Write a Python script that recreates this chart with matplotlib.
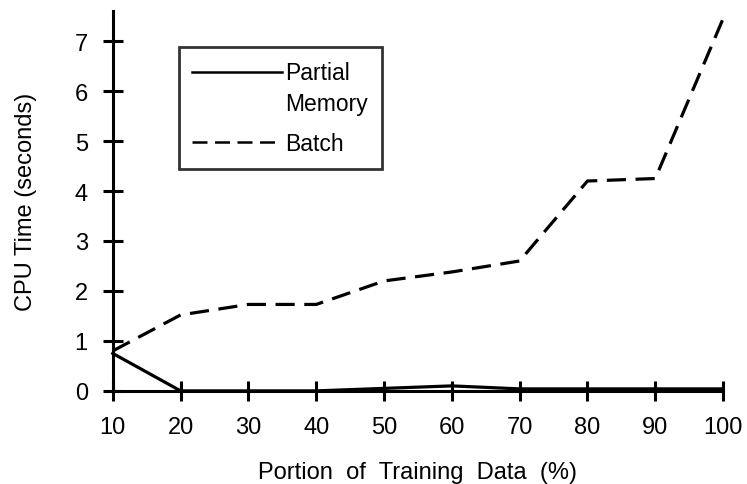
import matplotlib.pyplot as plt

plt.rcParams['font.family'] = ['Liberation Sans', 'DejaVu Sans']

portion = [10, 20, 30, 40, 50, 60, 70, 80, 90, 100]
partial_memory = [0.75, 0.0, 0.0, 0.0, 0.05, 0.1, 0.04, 0.04, 0.04, 0.04]
batch = [0.8, 1.52, 1.73, 1.73, 2.2, 2.38, 2.6, 4.2, 4.25, 7.45]
y_ticks = [0, 1, 2, 3, 4, 5, 6, 7]

fig = plt.figure(figsize=(7.47, 4.85), dpi=100)
ax = fig.add_axes([0.151, 0.192, 0.817, 0.783])

ax.plot(portion, partial_memory, color='black', lw=2.3, solid_joinstyle='miter',
        label='Partial\nMemory', clip_on=False)
ax.plot(portion, batch, color='black', lw=2.3, dashes=(6, 3),
        label='Batch', clip_on=False)

ax.set_xlim(10, 100)
ax.set_ylim(0, 7.6)
ax.set_xticks(portion)
ax.set_yticks(y_ticks)

for side in ['top', 'right']:
    ax.spines[side].set_visible(False)
for side in ['left', 'bottom']:
    ax.spines[side].set_linewidth(2.2)

ax.tick_params(axis='both', direction='inout', length=14, width=2.2,
               labelsize=17)
ax.tick_params(axis='x', pad=11)
ax.tick_params(axis='y', pad=11)

ax.set_xlabel('Portion  of  Training  Data  (%)', fontsize=17, labelpad=17)
ax.set_ylabel('CPU Time (seconds)', fontsize=17, labelpad=27)

leg = ax.legend(loc='upper left', bbox_to_anchor=(0.108, 0.905), fontsize=16.5,
                frameon=True, fancybox=False, edgecolor='black',
                handlelength=3.9, handletextpad=0.15, borderpad=0.6,
                labelspacing=0.75, borderaxespad=0)
leg.get_frame().set_linewidth(2)
for t in leg.get_texts():
    t.set_linespacing(1.45)
for line in leg.get_lines():
    line.set_linewidth(1.8)
# put the solid handle level with the first line "Partial"
first = leg.get_lines()[0]
first.set_ydata([v + 12 for v in first.get_ydata()])

fig.savefig('out.png', dpi=100)
